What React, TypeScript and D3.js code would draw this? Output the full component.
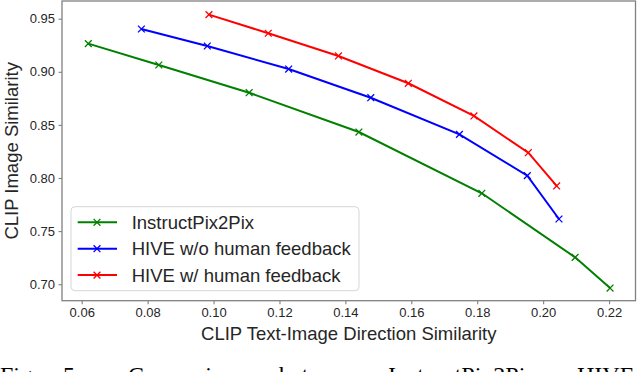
import React, { useRef, useEffect } from 'react';
import { select, scaleLinear, axisBottom, axisLeft, line, format } from 'd3';

// CLIP text-image direction similarity (x) vs CLIP image similarity (y)
const seriesNames = ['InstructPix2Pix', 'HIVE w/o human feedback', 'HIVE w/ human feedback'];
const seriesColors = ['#008000', '#0000ff', '#ff0000'];

const ip2pX = [0.062, 0.0834, 0.1108, 0.1441, 0.1814, 0.2097, 0.2203];
const ip2pY = [0.9265, 0.9064, 0.8803, 0.8433, 0.7856, 0.7253, 0.6964];

const hiveNoFbX = [0.0781, 0.0981, 0.1228, 0.1477, 0.1746, 0.1952, 0.2048];
const hiveNoFbY = [0.9403, 0.9243, 0.9026, 0.8756, 0.8411, 0.8022, 0.7614];

const hiveFbX = [0.0986, 0.1166, 0.1379, 0.1591, 0.179, 0.1955, 0.2041];
const hiveFbY = [0.9538, 0.9363, 0.9149, 0.8892, 0.8584, 0.8238, 0.7925];

const xTicks = [0.06, 0.08, 0.1, 0.12, 0.14, 0.16, 0.18, 0.2, 0.22];
const yTicks = [0.7, 0.75, 0.8, 0.85, 0.9, 0.95];

const captionWords = ['Figure', '5:', 'Comparison', 'between', 'InstructPix2Pix,', 'HIVE'];
const captionX = [0, 63, 128, 279, 388, 577];

const W = 640;
const H = 372;
const left = 62;
const right = 635.5;
const top = 1;
const bottom = 300.7;

const SANS = '"Liberation Sans", Arial, sans-serif';
const TXT = '#262626';
const SPINE = '#808080';

const App = () => {
  const svgRef = useRef<SVGSVGElement>(null);

  useEffect(() => {
    const svg = select(svgRef.current);
    svg.selectAll('*').remove();

    const x = scaleLinear().domain([0.05402, 0.22802]).range([left, right]);
    const y = scaleLinear().domain([0.68446, 0.96667]).range([bottom, top]);

    const series = [
      seriesNames[0] && ip2pX.map((v, i) => [v, ip2pY[i]]),
      hiveNoFbX.map((v, i) => [v, hiveNoFbY[i]]),
      hiveFbX.map((v, i) => [v, hiveFbY[i]]),
    ] as [number, number][][];

    // frame
    svg.append('rect')
      .attr('x', left).attr('y', top)
      .attr('width', right - left).attr('height', bottom - top)
      .attr('fill', 'white')
      .attr('stroke', SPINE).attr('stroke-width', 1.3);

    // axes
    const gx = svg.append('g')
      .attr('transform', `translate(0,${bottom})`)
      .call(axisBottom(x).tickValues(xTicks).tickFormat(format('.2f')).tickSize(3.5).tickPadding(4));
    const gy = svg.append('g')
      .attr('transform', `translate(${left},0)`)
      .call(axisLeft(y).tickValues(yTicks).tickFormat(format('.2f')).tickSize(3.5).tickPadding(3.5));
    [gx, gy].forEach(g => {
      g.select('.domain').remove();
      g.selectAll('line').attr('stroke', SPINE).attr('stroke-width', 1.1);
      g.selectAll('text')
        .attr('fill', TXT)
        .style('font-family', SANS)
        .style('font-size', '13px');
    });
    gx.selectAll('text').attr('dy', '0.71em');

    // lines + x markers
    const path = line<[number, number]>().x(d => x(d[0])).y(d => y(d[1]));
    const cross = (g: any, cx: number, cy: number, color: string) => {
      const r = 3.4;
      g.append('path')
        .attr('d', `M${cx - r},${cy - r}L${cx + r},${cy + r}M${cx - r},${cy + r}L${cx + r},${cy - r}`)
        .attr('stroke', color).attr('stroke-width', 1.3).attr('fill', 'none');
    };

    series.forEach((pts, k) => {
      const g = svg.append('g');
      g.append('path')
        .attr('d', path(pts))
        .attr('fill', 'none')
        .attr('stroke', seriesColors[k])
        .attr('stroke-width', 2);
      pts.forEach(p => cross(g, x(p[0]), y(p[1]), seriesColors[k]));
    });

    // legend
    const lg = svg.append('g');
    lg.append('rect')
      .attr('x', 71).attr('y', 206.7)
      .attr('width', 288).attr('height', 84)
      .attr('rx', 4)
      .attr('fill', 'white').attr('fill-opacity', 0.8)
      .attr('stroke', '#d6d6d6').attr('stroke-width', 1);
    seriesNames.forEach((name, k) => {
      const ry = 222.3 + k * 26.4;
      lg.append('line')
        .attr('x1', 77.7).attr('x2', 117)
        .attr('y1', ry).attr('y2', ry)
        .attr('stroke', seriesColors[k]).attr('stroke-width', 2);
      cross(lg, 97, ry, seriesColors[k]);
      lg.append('text')
        .attr('x', 131.7).attr('y', ry + 6.6)
        .attr('fill', TXT)
        .style('font-family', SANS)
        .style('font-size', '18.5px')
        .text(name);
    });

    // axis labels
    svg.append('text')
      .attr('x', (left + right) / 2).attr('y', 340)
      .attr('text-anchor', 'middle')
      .attr('fill', TXT)
      .style('font-family', SANS)
      .style('font-size', '18.5px')
      .text('CLIP Text-Image Direction Similarity');
    svg.append('text')
      .attr('transform', `translate(17.5,${(top + bottom) / 2}) rotate(-90)`)
      .attr('text-anchor', 'middle')
      .attr('fill', TXT)
      .style('font-family', SANS)
      .style('font-size', '18.5px')
      .text('CLIP Image Similarity');

    // caption (cut off at the bottom edge)
    svg.append('g').selectAll('text')
      .data(captionWords)
      .join('text')
      .attr('x', (d, i) => captionX[i])
      .attr('y', 382.6)
      .attr('fill', 'black')
      .style('font-family', '"Liberation Serif", "Times New Roman", serif')
      .style('font-size', '24px')
      .text(d => d);
  }, []);

  return (
    <svg
      ref={svgRef}
      width={W}
      height={H}
      style={{ position: 'absolute', left: 0, top: 0, background: 'white' }}
    />
  );
};

export default App;
